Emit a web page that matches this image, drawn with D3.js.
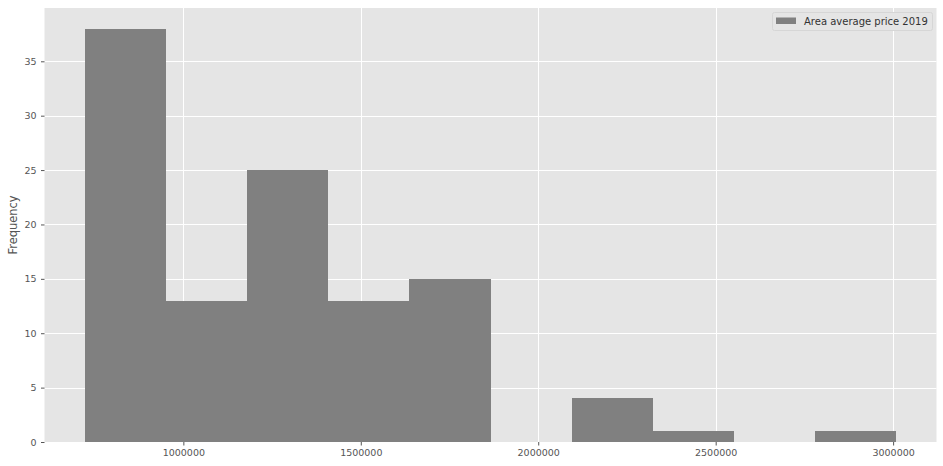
<!DOCTYPE html>
<html>
<head>
<meta charset="utf-8">
<title>Area average price 2019</title>
<script src="https://cdn.jsdelivr.net/npm/d3@7"></script>
<style>
  body { margin: 0; background: #fff; }
  svg { display: block; font-family: "DejaVu Sans", sans-serif; }
</style>
</head>
<body>
<svg width="943" height="466"></svg>
<script>
// histogram bins (edges) and counts
var binEdges = [723000, 951500, 1180000, 1408500, 1637000, 1865500, 2094000, 2322500, 2551000, 2779500, 3008000];
var counts = [38, 13, 25, 13, 15, 0, 4, 1, 0, 1];
var xTicks = [1000000, 1500000, 2000000, 2500000, 3000000];
var yTicks = [0, 5, 10, 15, 20, 25, 30, 35];
var seriesName = "Area average price 2019";

var svg = d3.select("svg"),
    plotLeft = 44.5, plotRight = 936.5, plotTop = 8, plotBottom = 442;

// matplotlib style 5% margins
var xmin = binEdges[0], xmax = binEdges[binEdges.length - 1], pad = (xmax - xmin) * 0.05;
var x = d3.scaleLinear().domain([xmin - pad, xmax + pad]).range([plotLeft, plotRight]);
var ymax = d3.max(counts) * 1.05;
var y = d3.scaleLinear().domain([0, ymax]).range([plotBottom, plotTop]);

// axes background
svg.append("rect")
    .attr("x", plotLeft).attr("y", plotTop)
    .attr("width", plotRight - plotLeft).attr("height", plotBottom - plotTop)
    .attr("fill", "#e5e5e5");

// grid
var grid = svg.append("g").attr("stroke", "#fff").attr("stroke-width", 1);
grid.selectAll(".gx").data(xTicks).enter().append("line")
    .attr("x1", function (d) { return Math.round(x(d)) + 0.5; })
    .attr("x2", function (d) { return Math.round(x(d)) + 0.5; })
    .attr("y1", plotTop).attr("y2", plotBottom);
grid.selectAll(".gy").data(yTicks).enter().append("line")
    .attr("y1", function (d) { return Math.round(y(d)) + 0.5; })
    .attr("y2", function (d) { return Math.round(y(d)) + 0.5; })
    .attr("x1", plotLeft).attr("x2", plotRight);

// bars
var bins = counts.map(function (c, i) { return { x0: binEdges[i], x1: binEdges[i + 1], n: c }; });
svg.append("g").selectAll("rect").data(bins.filter(function (d) { return d.n > 0; })).enter().append("rect")
    .attr("x", function (d) { return x(d.x0); })
    .attr("width", function (d) { return x(d.x1) - x(d.x0); })
    .attr("y", function (d) { return y(d.n); })
    .attr("height", function (d) { return y(0) - y(d.n); })
    .attr("fill", "#808080")
    .attr("shape-rendering", "crispEdges");

// x axis
var xAxis = d3.axisBottom(x).tickValues(xTicks).tickSize(3.5).tickPadding(3.5).tickFormat(d3.format("d"));
var gx = svg.append("g").attr("transform", "translate(0," + plotBottom + ")").call(xAxis);
gx.select(".domain").remove();
gx.selectAll("line").attr("stroke", "#555");
gx.selectAll("text").attr("fill", "#555").attr("font-size", "9.5px").attr("font-family", "DejaVu Sans");

// y axis
var yAxis = d3.axisLeft(y).tickValues(yTicks).tickSize(3.5).tickPadding(4.5);
var gy = svg.append("g").attr("transform", "translate(" + plotLeft + ",0)").call(yAxis);
gy.select(".domain").remove();
gy.selectAll("line").attr("stroke", "#555");
gy.selectAll("text").attr("fill", "#555").attr("font-size", "9.5px").attr("font-family", "DejaVu Sans");

// y label
svg.append("text")
    .attr("transform", "translate(16.5," + (plotTop + plotBottom) / 2 + ") rotate(-90)")
    .attr("text-anchor", "middle")
    .attr("font-size", "11.4px")
    .attr("fill", "#555")
    .text("Frequency");

// legend
var lg = svg.append("g");
lg.append("rect")
    .attr("x", 772.5).attr("y", 12.5).attr("width", 160).attr("height", 18).attr("rx", 2)
    .attr("fill", "#e5e5e5").attr("stroke", "#d6d6d6");
lg.append("rect")
    .attr("x", 776).attr("y", 17.5).attr("width", 20).attr("height", 6.5)
    .attr("fill", "#808080");
lg.append("text")
    .attr("x", 804).attr("y", 25)
    .attr("font-size", "10px")
    .attr("fill", "#333")
    .text(seriesName);
</script>
</body>
</html>
